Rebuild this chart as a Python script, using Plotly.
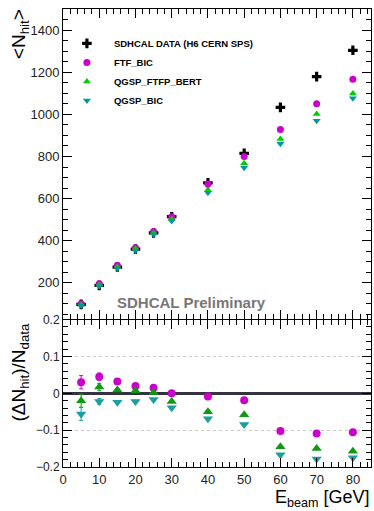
import plotly.graph_objects as go

energy = [5, 10, 15, 20, 25, 30, 40, 50, 60, 70, 80]

nhit_data = [98, 188, 275, 360, 437, 514, 675, 815, 1033, 1179, 1304]
nhit_ftf_bic = [101, 196, 284, 367, 444, 514, 669, 800, 928, 1050, 1166]
nhit_qgsp_ftfp_bert = [96, 191, 277, 363, 438, 503, 641, 768, 883, 1002, 1099]
nhit_qgsp_bic = [93, 184, 268, 352, 430, 494, 628, 746, 860, 969, 1076]

ratio_ftf_bic = [0.030, 0.045, 0.032, 0.020, 0.015, 0.000, -0.009, -0.019, -0.102, -0.109, -0.106]
ratio_qgsp_ftfp_bert = [-0.020, 0.017, 0.009, 0.007, 0.002, -0.022, -0.050, -0.058, -0.145, -0.150, -0.157]
ratio_qgsp_bic = [-0.056, -0.022, -0.024, -0.022, -0.017, -0.039, -0.069, -0.085, -0.167, -0.178, -0.175]

err_ftf_bic = [0.018, 0.010, 0.004, 0.003, 0.003, 0.003, 0.002, 0.002, 0.002, 0.002, 0.002]
err_qgsp_ftfp_bert = [0.018, 0.010, 0.004, 0.003, 0.003, 0.003, 0.002, 0.002, 0.002, 0.002, 0.002]
err_qgsp_bic = [0.018, 0.008, 0.004, 0.003, 0.003, 0.003, 0.002, 0.002, 0.002, 0.002, 0.002]

names = ["SDHCAL DATA (H6 CERN SPS)", "FTF_BIC", "QGSP_FTFP_BERT", "QGSP_BIC"]

FONT = "Liberation Sans, Arial, Helvetica, sans-serif"
C_FTF = "#cc00cc"
C_BERT_UP = "#00cc00"
C_BERT_LO = "#109910"
C_BIC = "#009999"
C_BIC_LO = "#1a9e9e"

TOP, BOT = 7, 44
PH = 511 - TOP - BOT
PW = 374 - 63 - 2

fig = go.Figure()

# upper pane
fig.add_trace(go.Scatter(x=energy, y=nhit_data, mode="markers", name=names[0],
                         marker=dict(symbol="cross", size=8, color="black"),
                         xaxis="x2", yaxis="y2"))
fig.add_trace(go.Scatter(x=energy, y=nhit_ftf_bic, mode="markers", name=names[1],
                         marker=dict(symbol="circle", size=7, color=C_FTF),
                         xaxis="x2", yaxis="y2"))
fig.add_trace(go.Scatter(x=energy, y=nhit_qgsp_ftfp_bert, mode="markers", name=names[2],
                         marker=dict(symbol="triangle-up", size=7, color=C_BERT_UP),
                         xaxis="x2", yaxis="y2"))
fig.add_trace(go.Scatter(x=energy, y=nhit_qgsp_bic, mode="markers", name=names[3],
                         marker=dict(symbol="triangle-down", size=7, color=C_BIC),
                         xaxis="x2", yaxis="y2"))

# lower pane
fig.add_trace(go.Scatter(x=energy, y=ratio_ftf_bic, mode="markers", showlegend=False,
                         marker=dict(symbol="circle", size=8, color=C_FTF),
                         error_y=dict(type="data", array=err_ftf_bic, color=C_FTF, thickness=1, width=2),
                         xaxis="x", yaxis="y"))
fig.add_trace(go.Scatter(x=energy, y=ratio_qgsp_ftfp_bert, mode="markers", showlegend=False,
                         marker=dict(symbol="triangle-up", size=9, color=C_BERT_LO),
                         error_y=dict(type="data", array=err_qgsp_ftfp_bert, color=C_BERT_LO, thickness=1, width=2),
                         xaxis="x", yaxis="y"))
fig.add_trace(go.Scatter(x=energy, y=ratio_qgsp_bic, mode="markers", showlegend=False,
                         marker=dict(symbol="triangle-down", size=9, color=C_BIC_LO),
                         error_y=dict(type="data", array=err_qgsp_bic, color=C_BIC_LO, thickness=1, width=2),
                         xaxis="x", yaxis="y"))

axis_common = dict(showline=True, linecolor="black", linewidth=1, mirror="allticks",
                   ticks="inside", ticklen=9, tickcolor="black", tickwidth=1,
                   zeroline=False, showgrid=False)

split = (511 - BOT - 318.5) / PH

fig.update_layout(
    width=374, height=511,
    margin=dict(l=63, r=2, t=TOP, b=BOT),
    paper_bgcolor="white", plot_bgcolor="white",
    font=dict(family=FONT, color="#222"),
    xaxis=dict(**axis_common, domain=[0, 1], range=[0, 85], dtick=10, tick0=0,
               minor=dict(ticks="inside", ticklen=5, dtick=2, tickcolor="black"),
               tickfont=dict(size=13, family=FONT, color="#222"), anchor="y"),
    yaxis=dict(**{**axis_common, "showgrid": True, "zeroline": True}, domain=[0, split - 0.001],
               range=[-0.2, 0.2], dtick=0.1, tick0=0,
               gridcolor="#c8c8c8", griddash="dot", gridwidth=1,
               zerolinecolor="#333344", zerolinewidth=2.5,
               minor=dict(ticks="inside", ticklen=5, dtick=0.02, tickcolor="black", showgrid=False),
               tickfont=dict(size=12, family=FONT, color="#222"), anchor="x"),
    xaxis2=dict(**axis_common, domain=[0, 1], range=[0, 85], dtick=10, tick0=0,
                minor=dict(ticks="inside", ticklen=5, dtick=2, tickcolor="black"),
                showticklabels=False, anchor="y2"),
    yaxis2=dict(**axis_common, domain=[split + 0.001, 1], range=[30, 1500], dtick=200, tick0=0,
                minor=dict(ticks="inside", ticklen=5, dtick=50, tickcolor="black"),
                tickfont=dict(size=13, family=FONT, color="#222"), anchor="x2"),
    legend=dict(x=-0.01, y=1 - (27 - TOP) / PH, xanchor="left", yanchor="top", bgcolor="rgba(0,0,0,0)",
                font=dict(size=9.5, family=FONT, color="black", weight="bold"),
                itemwidth=44, tracegroupgap=0),
    showlegend=True,
)

fig.add_annotation(text="<b>SDHCAL Preliminary</b>", xref="paper", yref="paper",
                   x=52 / PW, y=(511 - BOT - 302) / PH, xanchor="left", yanchor="middle",
                   showarrow=False, font=dict(size=15, family=FONT, color="#777777"))
fig.add_annotation(text="&lt;N<sub>hit</sub>&gt;", xref="paper", yref="paper",
                   x=-43 / PW, y=1 + 2 / PH, xanchor="center", yanchor="top", textangle=-90,
                   showarrow=False, font=dict(size=19, family=FONT, color="black"))
fig.add_annotation(text="(ΔN<sub>hit</sub>)/N<sub>data</sub>", xref="paper", yref="paper",
                   x=-43 / PW, y=(511 - BOT - 372) / PH, xanchor="center", yanchor="middle", textangle=-90,
                   showarrow=False, font=dict(size=19, family=FONT, color="black"))
fig.add_annotation(text="E<sub>beam</sub> [GeV]", xref="paper", yref="paper",
                   x=1.0, y=-BOT / PH, xanchor="right", yanchor="bottom", borderpad=0,
                   showarrow=False, font=dict(size=18, family=FONT, color="black"))

fig.write_html("out.html")
